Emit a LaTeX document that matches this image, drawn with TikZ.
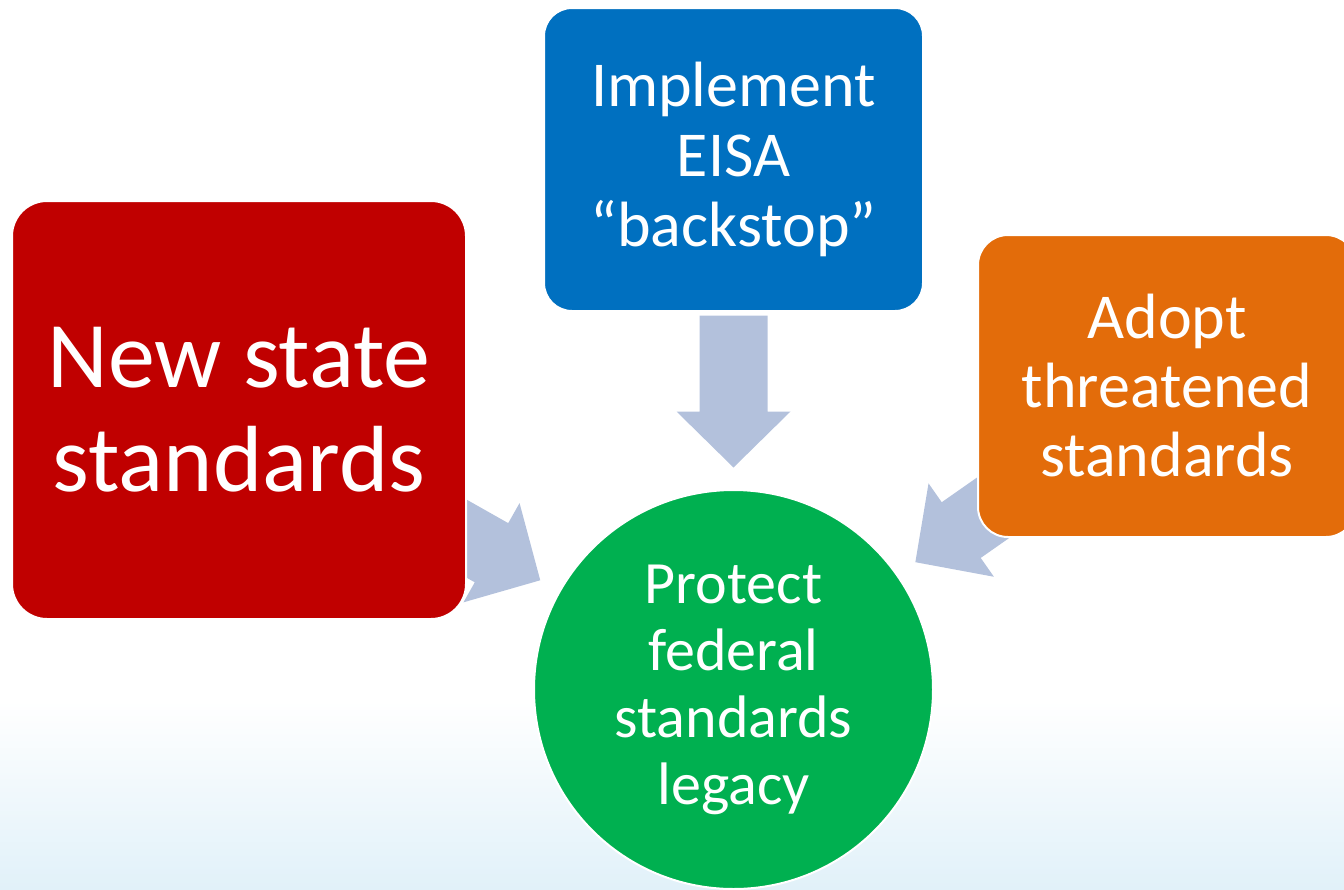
\documentclass[tikz,border=0pt]{standalone}
\usepackage{fontspec}
\setmainfont{Carlito}
\usetikzlibrary{calc}
\definecolor{stateRed}{HTML}{C00000}
\definecolor{eisaBlue}{HTML}{0070C0}
\definecolor{adoptOrange}{HTML}{E36C0A}
\definecolor{legacyGreen}{HTML}{00B050}
\definecolor{arrowBlue}{HTML}{B3C1DC}
\definecolor{bgBlue}{HTML}{E1F1F9}
\pgfdeclarelayer{back}
\pgfdeclarelayer{arrows}
\pgfsetlayers{back,arrows,main}
\newcommand{\BlockArrow}[2]{%
  \coordinate (tip) at ($(#2)!222pt!(#1)$);
  \coordinate (neck) at ($(tip)!56pt!(#1)$);
  \coordinate (tail) at ($(tip)!152pt!(#1)$);
  \fill[fat] ($(tail)!34pt!90:(tip)$) -- ($(neck)!34pt!90:(tip)$) -- ($(neck)!57pt!90:(tip)$)
    -- (tip) -- ($(neck)!57pt!-90:(tip)$) -- ($(neck)!34pt!-90:(tip)$) -- ($(tail)!34pt!-90:(tip)$) -- cycle;}

\begin{document}
\begin{tikzpicture}[x=1pt,y=-1pt]
		\tikzstyle{box}=[rectangle,draw=white,line width=2pt,text=white,align=center,inner sep=0pt]
		\tikzstyle{fat}=[fill=arrowBlue]
		\useasboundingbox (0,0) rectangle (1344,889);
		\node[box,fill=stateRed,rounded corners=35pt,minimum width=454pt,minimum height=418pt,font=\fontsize{94}{104}\selectfont] (state) at (239,410) {New state\\standards};
		\node[box,fill=eisaBlue,rounded corners=28pt,minimum width=379pt,minimum height=303pt,font=\fontsize{64}{70}\selectfont] (eisa) at (733.5,159.5) {Implement\\EISA\\“backstop”};
		\node[box,fill=adoptOrange,rounded corners=30pt,minimum width=378pt,minimum height=302pt,font=\fontsize{64}{69}\selectfont] (adopt) at (1167,386) {Adopt\\threatened\\standards};
		\node[box,circle,fill=legacyGreen,minimum size=399pt,font=\fontsize{60}{67}\selectfont] (legacy) at (733.5,689.5) {Protect\\federal\\standards\\legacy};
		\begin{pgfonlayer}{back}
			\shade[top color=white,bottom color=bgBlue] (0,700) rectangle (1344,889);
		\end{pgfonlayer}
		\begin{pgfonlayer}{arrows}
			\BlockArrow{state}{legacy}
			\BlockArrow{eisa}{legacy}
			\BlockArrow{adopt}{legacy}
		\end{pgfonlayer}
\end{tikzpicture}
\end{document}
